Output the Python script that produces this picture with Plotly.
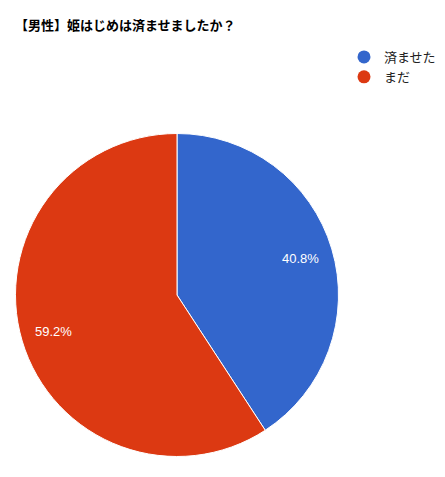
import math
import plotly.graph_objects as go

# survey answers (percent)
labels = ["済ませた", "まだ"]
values = [40.8, 59.2]
colors = ["#3366CC", "#DC3912"]

# page body has an 8px margin, so size the figure to what is visible
W, H = 437, 469
OFF = 8

# pie geometry in reference pixels
cx, cy, r = 177 - OFF, 295 - OFF, 161.5

fig = go.Figure()

fig.add_trace(go.Pie(
    labels=labels,
    values=values,
    sort=False,
    direction="clockwise",
    rotation=0,
    marker=dict(colors=colors, line=dict(color="white", width=1)),
    textinfo="none",
    domain=dict(x=[(cx - r) / W, (cx + r) / W], y=[1 - (cy + r) / H, 1 - (cy - r) / H]),
    showlegend=False,
    hoverinfo="label+percent",
))

# percent labels at 80% of the radius, mid-angle of each slice (Google Charts style)
total = sum(values)
cum = 0
for v in values:
    mid = (cum + v / 2) / total * 2 * math.pi
    cum += v
    lx = cx + 0.8 * r * math.sin(mid)
    ly = cy - 0.8 * r * math.cos(mid)
    fig.add_annotation(
        x=lx / W, y=1 - ly / H, xref="paper", yref="paper",
        xanchor="center", yanchor="middle",
        text=f"{v / total * 100:.1f}%", showarrow=False,
        font=dict(color="white", size=13, family="Liberation Sans, Arial"),
    )

# dummy traces just so the legend gets round markers like the original
for lab, col in zip(labels, colors):
    fig.add_trace(go.Scatter(
        x=[None], y=[None], mode="markers", name=lab,
        marker=dict(symbol="circle", size=13, color=col),
    ))

fig.update_layout(
    width=W, height=H,
    margin=dict(l=0, r=0, t=0, b=0, autoexpand=False),
    paper_bgcolor="white",
    plot_bgcolor="white",
    font=dict(family="Liberation Sans, Arial, Noto Sans CJK JP", size=13, color="#222222"),
    title=dict(
        text="<b>【男性】姫はじめは済ませましたか？</b>",
        x=(15 - OFF) / W, xanchor="left",
        y=1 - (25 - OFF) / H, yanchor="middle",
        font=dict(size=13, color="#000000", family="Liberation Sans, Arial, Noto Sans CJK JP"),
    ),
    legend=dict(
        x=(344 - OFF) / W, xanchor="left",
        y=1 - (42 - OFF) / H, yanchor="top",
        font=dict(size=13, color="#222222"),
        bgcolor="rgba(0,0,0,0)",
    ),
    xaxis=dict(visible=False),
    yaxis=dict(visible=False),
)

fig.write_html("out.html")
